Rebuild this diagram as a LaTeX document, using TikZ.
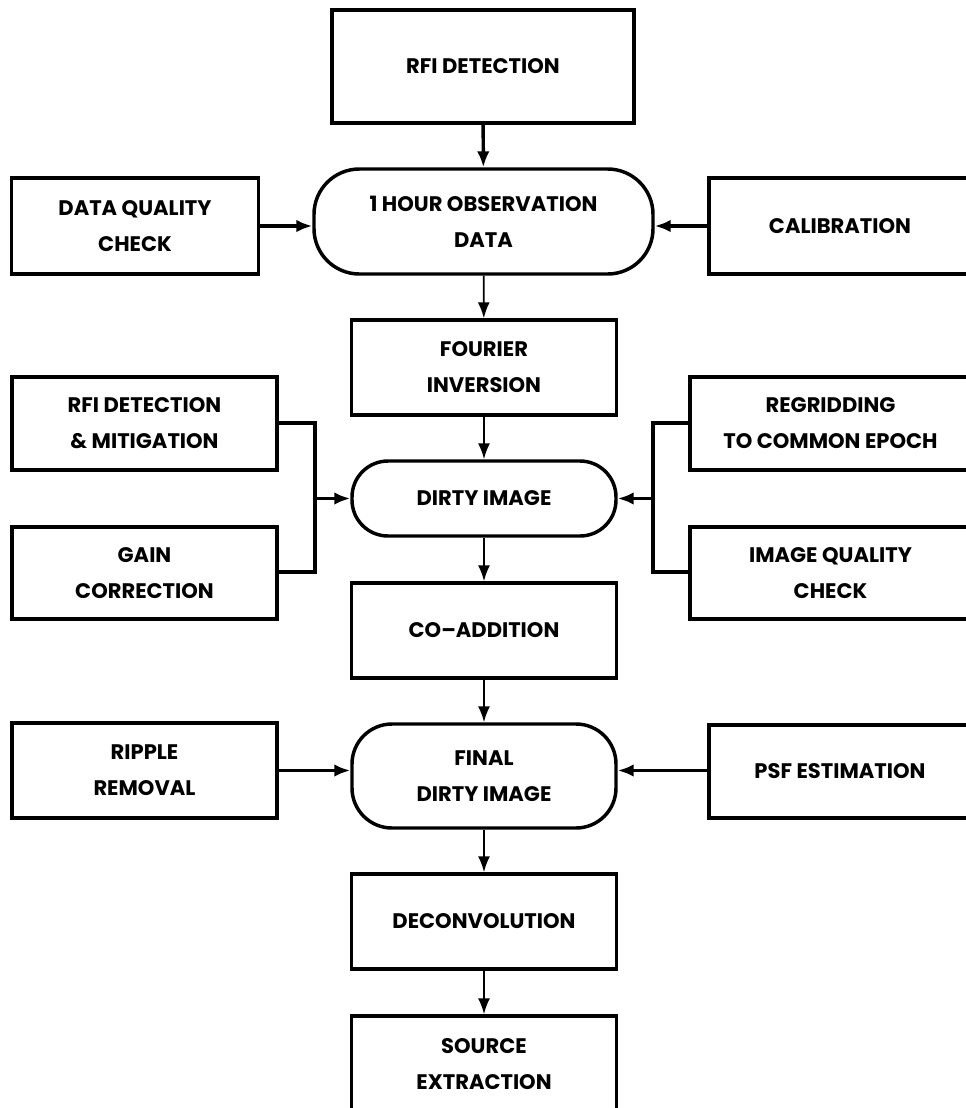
\documentclass[tikz,border=0pt]{standalone}
\usepackage{fontspec}
\setmainfont{Poppins}
\usepackage{tikz}
\usetikzlibrary{
    arrows.meta
}

\begin{document}
\begin{tikzpicture}[x=0.75pt, y=-0.75pt,
    every node/.style={font=\fontsize{15.8}{27}\selectfont\bfseries, align=center, inner sep=0pt},
    box/.style={draw, line width=2.6pt, minimum width=198.75pt, minimum height=71pt},
    term/.style={draw, line width=2.6pt, rounded corners=30pt, minimum width=198pt},
    thin/.style={line width=1.4pt, -{Latex[length=12pt, width=9pt]}},
    thick/.style={line width=2.6pt, -{Latex[length=12pt, width=9.5pt]}}]
		\useasboundingbox (0, 0) rectangle (966, 1108);
		\clip (0, 0) rectangle (966, 1108);
        \node[box, minimum width=226.5pt, minimum height=84.75pt] (rfi) at (483, 66.5) {RFI DETECTION};
        \node[term, rounded corners=34pt, minimum width=254.25pt, minimum height=78.75pt] (obs) at (483.5, 221.5) {1 HOUR OBSERVATION\\DATA};
        \node[box, minimum width=185.25pt, minimum height=72pt] (dqc) at (135, 226) {DATA QUALITY\\CHECK};
        \node[box, minimum width=196.5pt, minimum height=72pt] (cal) at (840, 226) {CALIBRATION};
        \node[box, minimum height=71.25pt] (fourier) at (484, 367.5) {FOURIER\\INVERSION};
        \node[box, minimum height=69.75pt] (mitig) at (144.5, 423.5) {RFI DETECTION\\\& MITIGATION};
        \node[box, minimum height=69pt] (gain) at (144.5, 573) {GAIN\\CORRECTION};
        \node[term, rounded corners=27pt, minimum height=56.25pt] (dirty) at (484, 498.5) {DIRTY IMAGE};
        \node[box, minimum width=210.75pt, minimum height=69.75pt] (regrid) at (830.5, 423.5) {REGRIDDING\\TO COMMON EPOCH};
        \node[box, minimum width=210.75pt, minimum height=69pt] (iqc) at (830.5, 573) {IMAGE QUALITY\\CHECK};
        \node[box, minimum height=71.25pt] (coadd) at (484, 630.5) {CO–ADDITION};
        \node[term, minimum height=78pt] (final) at (484, 776) {FINAL\\DIRTY IMAGE};
        \node[box, minimum height=71.25pt] (ripple) at (144.5, 770.5) {RIPPLE\\REMOVAL};
        \node[box, minimum width=196.5pt, minimum height=69.75pt] (psf) at (840, 771.5) {PSF ESTIMATION};
        \node[box, minimum height=71.25pt] (deconv) at (484, 921.5) {DECONVOLUTION};
        \node[box, minimum height=72pt] (source) at (484, 1064) {SOURCE\\EXTRACTION};
        \coordinate (ljoin) at (315, 498.5);
        \coordinate (rjoin) at (653, 498.5);
        \draw[thick] (rfi) -- (obs);
        \draw[thick] (dqc.east) -- (obs.west |- dqc.east);
        \draw[thick] (cal.west) -- (obs.east |- cal.west);
        \draw[thin] (obs) -- (fourier);
        \draw[thin] (fourier) -- (dirty);
        \draw[line width=2.6pt] (mitig.east |- 0, 423) -| (ljoin) |- (gain.east |- 0, 572);
        \draw[line width=2.6pt] (regrid.west |- 0, 423) -| (rjoin) |- (iqc.west |- 0, 572);
        \draw[thick] (ljoin) -- (dirty);
        \draw[thick] (rjoin) -- (dirty);
        \draw[thin] (dirty) -- (coadd);
        \draw[thin] (coadd) -- (final);
        \draw[thick] (ripple.east) -- (final.west |- ripple.east);
        \draw[thick] (psf.west |- ripple.east) -- (final.east |- ripple.east);
        \draw[thin] (final) -- (deconv);
        \draw[thin] (deconv) -- (source);
	\end{tikzpicture}
\end{document}
